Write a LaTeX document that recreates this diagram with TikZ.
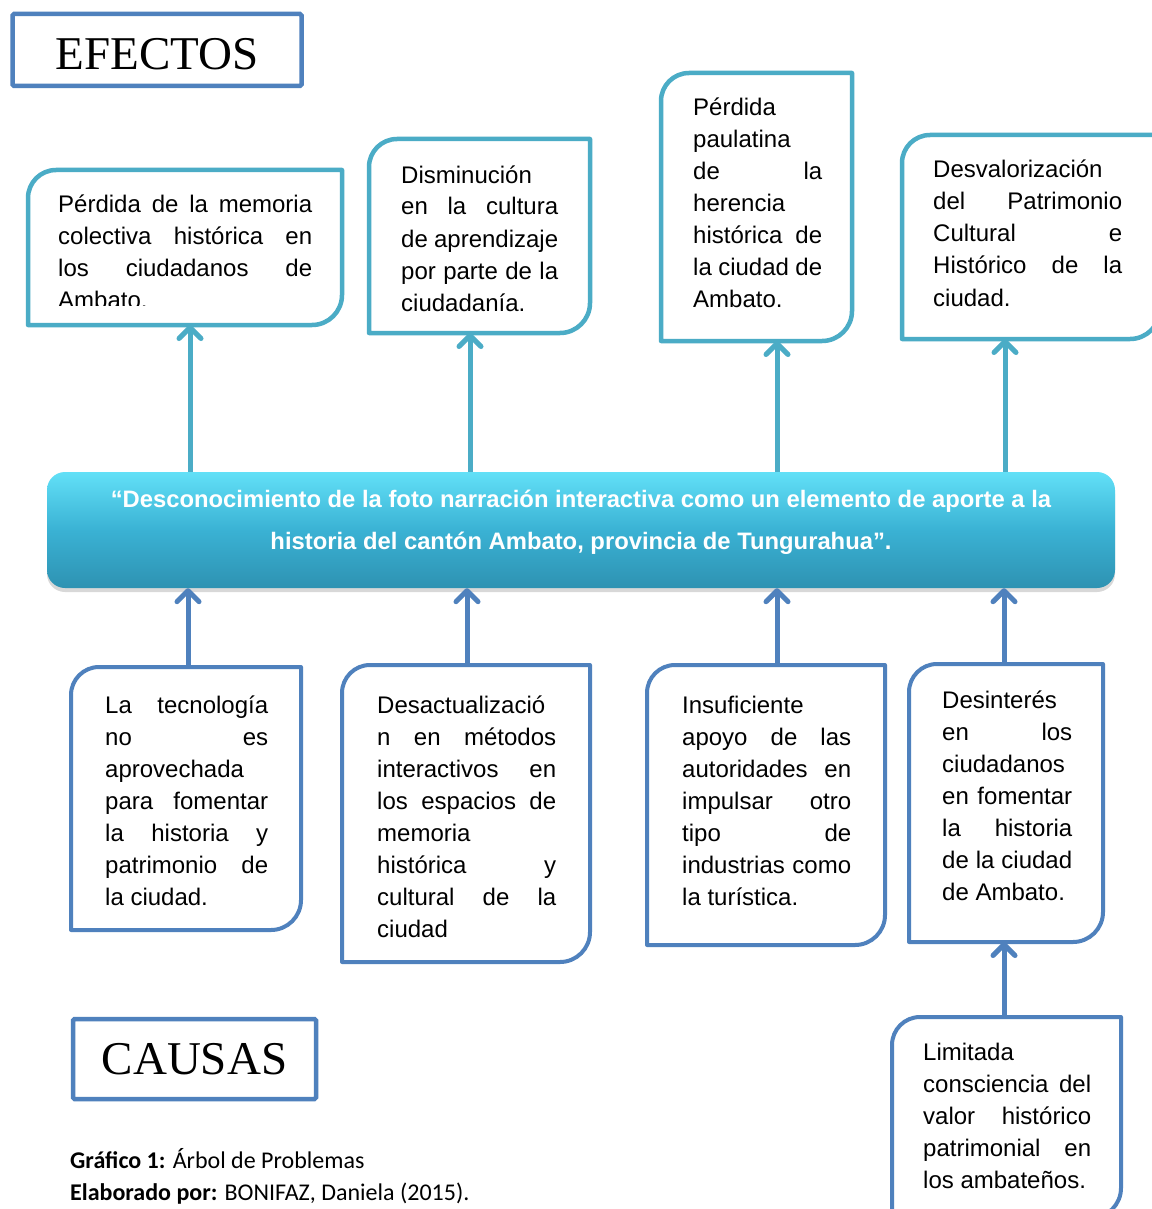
\documentclass[tikz,border=0pt]{standalone}
\usepackage{fontspec}
\setmainfont{Liberation Sans}
\newfontfamily\titlefont{Liberation Serif}
\newfontfamily\notefont{Carlito}
\usepackage{tikz}
\usepackage{xcolor}
\definecolor{tteal}{RGB}{75,172,198}
\definecolor{tblue}{RGB}{79,129,189}
\definecolor{barTop}{RGB}{98,224,247}
\definecolor{barMid}{RGB}{58,178,212}
\definecolor{barBot}{RGB}{46,146,178}
\usetikzlibrary{arrows.meta}
\usetikzlibrary{shadows}

% justified line of a box text
\newcommand{\jl}[1]{{\spaceskip=0pt\xspaceskip=0pt\makebox[\linewidth][s]{#1}}}
% frame with rounded top-left and bottom-right corners
\newcommand{\cornerframe}[2]{%
  \draw[#2] (#1.west) [rounded corners=28pt] -- (#1.north west) -- (#1.north)
    [sharp corners] -- (#1.north east) -- (#1.east)
    [rounded corners=30pt] -- (#1.south east) -- (#1.south)
    [sharp corners] -- (#1.south west) -- cycle;}

\begin{document}
\begin{tikzpicture}[x=1pt,y=1pt]
\tikzstyle{frame} = [
  shape=rectangle,
  inner sep=0pt,
  outer sep=0pt,
  anchor=north west
]
\tikzstyle{boxtext} = [
  anchor=base west,
  inner sep=0pt,
  align=flush left,
  font=\fontsize{24}{32}\selectfont
]
\tikzstyle{effline} = [
  draw = tteal,
  line width = 4.5pt,
  line join = round
]
\tikzstyle{cauline} = [
  draw = tblue,
  line width = 4pt,
  line join = round
]
\tikzstyle{titlebox} = [
  draw = tblue,
  line width = 4.5pt,
  rounded corners = 1.5pt,
  inner sep = 0pt,
  font = \titlefont\fontsize{47}{50}\selectfont
]
\tikzstyle{effarrow} = [
  draw = tteal,
  line width = 5pt,
  -{Straight Barb[length=11pt,width=22pt,round]}
]
\tikzstyle{cauarrow} = [
  draw = tblue,
  line width = 5pt,
  -{Straight Barb[length=11pt,width=22pt,round]}
]

\useasboundingbox[fill=white] (0,0) rectangle (1151,-1209);

% titles
\node[titlebox, minimum width=289pt, minimum height=72pt, text height=40pt, text depth=0pt] (efectos) at (157,-50) {EFECTOS};
\node[titlebox, minimum width=243pt, minimum height=80pt] (causas) at (194.5,-1059) {CAUSAS};

% central problem
\node[shape=rectangle, rounded corners=18pt, minimum width=1068pt, minimum height=116pt,
  top color=barTop, bottom color=barBot, middle color=barMid,
  drop shadow={shadow xshift=0pt, shadow yshift=-4pt, opacity=0.3}] (bar) at (581,-530) {};
\node[anchor=base, inner sep=0pt, text width=1060pt, align=flush center, text=white,
  font=\bfseries\fontsize{23.8}{42}\selectfont] (bart) at (581,-507)
  {“Desconocimiento de la foto narración interactiva como un elemento de aporte a la\\
   historia del cantón Ambato, provincia de Tungurahua”.};

% effects
\node[frame, minimum width=314pt, minimum height=155pt] (e1) at (28,-170) {};
\node[frame, minimum width=221pt, minimum height=194pt] (e2) at (369,-139) {};
\node[frame, minimum width=191pt, minimum height=268pt] (e3) at (661,-73) {};
\node[frame, minimum width=258pt, minimum height=204pt] (e4) at (902,-135) {};
\cornerframe{e1}{effline}
\cornerframe{e2}{effline}
\cornerframe{e3}{effline}
\cornerframe{e4}{effline}

\begin{scope}
\clip (28,-170) rectangle (342,-305);
\node[boxtext, text width=254pt] (e1t) at (58,-212)
  {\jl{Pérdida de la memoria}\\\jl{colectiva histórica en}\\\jl{los ciudadanos de}\\Ambato.};
\end{scope}
\node[boxtext, text width=157pt] (e2t) at (401,-183)
  {Disminución\\\jl{en la cultura}\\\jl{de aprendizaje}\\\jl{por parte de la}\\ciudadanía.};
\node[boxtext, text width=129pt] (e3t) at (693,-116)
  {Pérdida\\paulatina\\\jl{de la}\\herencia\\\jl{histórica de}\\\jl{la ciudad de}\\Ambato.};
\node[boxtext, text width=189pt] (e4t) at (933,-178)
  {Desvalorización\\\jl{del Patrimonio}\\\jl{Cultural e}\\\jl{Histórico de la}\\ciudad.};

% causes
\node[frame, minimum width=230pt, minimum height=263pt] (c1) at (71,-667) {};
\node[frame, minimum width=248pt, minimum height=297pt] (c2) at (342,-665) {};
\node[frame, minimum width=238pt, minimum height=280pt] (c3) at (647,-665) {};
\node[frame, minimum width=194pt, minimum height=278pt] (c4) at (909,-664) {};
\node[frame, minimum width=229pt, minimum height=201pt] (c5) at (892,-1017) {};
\cornerframe{c1}{cauline}
\cornerframe{c2}{cauline}
\cornerframe{c3}{cauline}
\cornerframe{c4}{cauline}
\cornerframe{c5}{cauline}

\node[boxtext, text width=163pt] (c1t) at (105,-713)
  {\jl{La tecnología}\\\jl{no es}\\aprovechada\\\jl{para fomentar}\\\jl{la historia y}\\\jl{patrimonio de}\\la ciudad.};
\node[boxtext, text width=179pt] (c2t) at (377,-713)
  {Desactualizació\\\jl{n en métodos}\\\jl{interactivos en}\\\jl{los espacios de}\\memoria\\\jl{histórica y}\\\jl{cultural de la}\\ciudad};
\node[boxtext, text width=169pt] (c3t) at (682,-713)
  {Insuficiente\\\jl{apoyo de las}\\\jl{autoridades en}\\\jl{impulsar otro}\\\jl{tipo de}\\\jl{industrias como}\\la turística.};
\node[boxtext, text width=130pt] (c4t) at (942,-708)
  {Desinterés\\\jl{en los}\\ciudadanos\\\jl{en fomentar}\\\jl{la historia}\\\jl{de la ciudad}\\de Ambato.};
\node[boxtext, text width=168pt] (c5t) at (923,-1060)
  {Limitada\\\jl{consciencia del}\\\jl{valor histórico}\\\jl{patrimonial en}\\los ambateños.};

% arrows
\draw[effarrow] (190,0 |- bar.north) -- (190,0 |- e1.south);
\draw[effarrow] (470,0 |- bar.north) -- (470,0 |- e2.south);
\draw[effarrow] (777,0 |- bar.north) -- (777,0 |- e3.south);
\draw[effarrow] (1005,0 |- bar.north) -- (1005,0 |- e4.south);
\draw[cauarrow] (188,0 |- c1.north) -- (188,0 |- bar.south);
\draw[cauarrow] (467,0 |- c2.north) -- (467,0 |- bar.south);
\draw[cauarrow] (777,0 |- c3.north) -- (777,0 |- bar.south);
\draw[cauarrow] (1004,0 |- c4.north) -- (1004,0 |- bar.south);
\draw[cauarrow] (1004,0 |- c5.north) -- (1004,0 |- c4.south);

% caption
\node[anchor=base west, inner sep=0pt, text width=500pt, align=flush left,
  font=\notefont\fontsize{24}{32}\selectfont] (note) at (70,-1168)
  {\textbf{Gráfico 1:} Árbol de Problemas\\\textbf{Elaborado por:} BONIFAZ, Daniela (2015).};

\end{tikzpicture}
\end{document}
